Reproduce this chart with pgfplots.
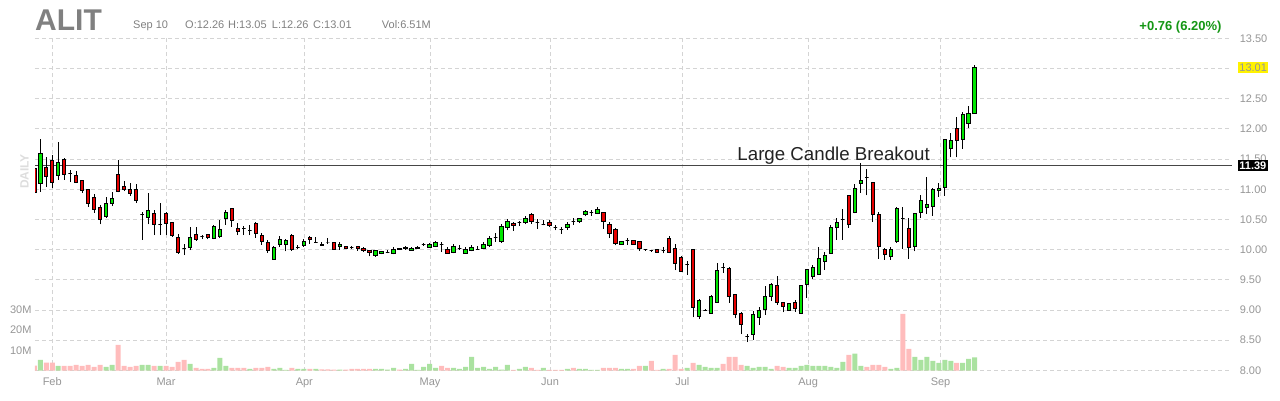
\documentclass[border=0pt]{standalone}
\usepackage{pgfplots}
\pgfplotsset{compat=1.18}
\usepackage{pgfplotstable}
\usepackage{fontspec}
\setmainfont{Liberation Sans}
\definecolor{candlegreen}{RGB}{0,230,0}
\definecolor{candlered}{RGB}{230,0,0}
\definecolor{volgreen}{RGB}{170,226,160}
\definecolor{volred}{RGB}{255,188,188}
\definecolor{gridgray}{RGB}{212,212,212}
\definecolor{labelgray}{RGB}{150,150,150}
\definecolor{headgray}{RGB}{128,128,128}
\definecolor{upgreen}{RGB}{20,150,20}
\definecolor{linegray}{RGB}{70,70,70}

\pgfplotstableread{
o h l c vu vd
11.35 11.40 10.93 10.95 0 2.5
11.09 11.84 10.96 11.59 5.3 0
11.36 11.54 11.04 11.21 0 4.0
11.47 11.57 11.02 11.12 0 4.0
11.22 11.79 11.16 11.45 2.3 0
11.50 11.52 11.16 11.25 0 2.3
11.26 11.32 11.12 11.26 0 2.3
11.23 11.31 11.10 11.12 0 2.8
11.14 11.16 10.94 10.98 0 2.3
10.99 11.00 10.71 10.77 0 2.8
10.87 10.92 10.61 10.66 0 1.8
10.70 10.74 10.42 10.50 0 2.8
10.55 10.88 10.52 10.77 1.8 0
10.77 10.96 10.72 10.84 2.8 0
11.25 11.48 10.95 10.96 0 12.7
11.05 11.14 10.97 11.00 0 2.3
11.00 11.10 10.89 10.93 0 1.8
10.99 11.08 10.77 10.81 0 2.3
10.58 10.63 10.16 10.58 2.8 0
10.54 10.94 10.42 10.64 2.8 0
10.60 10.65 10.24 10.41 0 2.3
10.41 10.77 10.24 10.41 2.3 0
10.60 10.62 10.24 10.44 0 2.3
10.45 10.45 10.21 10.23 0 1.8
10.20 10.26 9.93 9.95 0 4.3
10.02 10.10 9.91 10.02 0 5.3
10.04 10.38 9.99 10.20 3.3 0
10.25 10.38 10.15 10.17 0 1.3
10.22 10.24 10.17 10.22 0 0.8
10.25 10.26 10.17 10.20 0 0.8
10.19 10.40 10.17 10.38 1.3 0
10.21 10.49 10.19 10.34 6.3 0
10.51 10.66 10.41 10.62 2.3 0
10.68 10.69 10.38 10.49 0 1.3
10.35 10.44 10.24 10.30 0 1.3
10.35 10.39 10.24 10.35 0 1.3
10.32 10.41 10.24 10.32 0.8 0
10.43 10.45 10.20 10.26 0 1.3
10.24 10.28 10.08 10.13 0 1.3
10.12 10.16 9.95 9.98 0 1.8
9.84 10.06 9.83 10.04 0.8 0
10.09 10.22 10.04 10.17 1.3 0
10.09 10.17 9.97 10.15 0.3 0
10.24 10.26 9.98 10.01 0 1.3
10.03 10.07 10.01 10.03 0.8 0
10.07 10.18 10.05 10.13 0.8 0
10.20 10.22 10.10 10.16 0 0.8
10.12 10.21 10.11 10.12 0.8 0
10.09 10.12 10.06 10.07 0 0.6
10.11 10.20 10.10 10.11 0 0.6
10.11 10.12 10.01 10.01 0 0.5
10.06 10.12 10.00 10.09 0.5 0
10.05 10.06 10.02 10.02 0 0.5
10.03 10.06 10.01 10.03 0 0.8
10.05 10.06 9.98 10.02 0 0.8
10.02 10.05 9.96 9.99 0 0.8
9.98 9.99 9.89 9.96 0 0.8
9.91 9.99 9.88 9.98 0.8 0
9.93 9.98 9.92 9.97 0.8 0
9.95 9.99 9.94 9.95 0.5 0
9.93 10.05 9.92 10.01 1.3 0
10.00 10.03 9.99 10.02 0 0.5
10.04 10.06 10.00 10.02 0.8 0
9.99 10.04 9.98 10.02 3.3 0
10.02 10.06 10.01 10.04 0.3 0
10.08 10.11 10.06 10.08 1.8 0
10.04 10.11 10.03 10.09 3.3 0
10.05 10.14 10.04 10.12 1.3 0
10.08 10.13 9.96 10.08 0 2.3
10.01 10.05 9.93 9.94 0 1.3
9.95 10.09 9.94 10.06 1.3 0
10.02 10.07 10.00 10.02 0.8 0
9.94 10.05 9.93 10.01 1.8 0
9.98 10.07 9.97 10.04 6.8 0
10.01 10.06 10.00 10.01 1.3 0
10.02 10.12 10.01 10.09 1.8 0
10.07 10.22 10.05 10.19 0.8 0
10.20 10.27 10.13 10.20 1.8 0
10.13 10.43 10.11 10.39 0.5 0
10.37 10.50 10.32 10.46 2.8 0
10.44 10.46 10.31 10.40 0 0.3
10.45 10.48 10.39 10.45 0.8 0
10.45 10.55 10.42 10.51 1.8 0
10.59 10.61 10.43 10.46 0 1.3
10.45 10.50 10.35 10.45 0 0.3
10.41 10.49 10.40 10.41 1.3 0
10.45 10.49 10.38 10.40 0 0.3
10.36 10.40 10.32 10.36 0 0.3
10.34 10.38 10.26 10.34 0 0.3
10.36 10.46 10.33 10.42 0.8 0
10.46 10.52 10.41 10.46 0 1.3
10.46 10.53 10.44 10.52 0.8 0
10.58 10.66 10.55 10.63 0.8 0
10.62 10.66 10.56 10.62 0.3 0
10.60 10.70 10.59 10.66 0.3 0
10.62 10.63 10.35 10.46 0 1.3
10.41 10.45 10.19 10.26 0 1.3
10.34 10.36 10.07 10.10 0 1.3
10.09 10.15 10.08 10.14 0.8 0
10.15 10.19 10.08 10.15 0.8 0
10.15 10.16 10.08 10.09 0 0.8
10.14 10.15 9.98 10.02 0 2.3
10.00 10.00 9.99 10.00 2.3 0
9.98 9.98 9.97 9.98 0 4.8
10.00 10.01 9.95 9.96 0 0.3
9.98 10.05 9.94 9.98 0.8 0
10.19 10.23 9.94 9.95 0 0.8
10.02 10.10 9.66 9.77 0 7.8
9.87 9.89 9.63 9.64 0 0.8
9.75 9.82 9.58 9.75 1.3 0
10.00 10.00 8.88 9.04 0 3.8
8.89 9.19 8.85 9.15 2.8 0
9.00 9.02 8.98 9.00 1.8 0
8.95 9.25 8.94 9.23 1.3 0
9.12 9.78 9.12 9.65 1.3 0
9.70 9.78 9.62 9.70 0 3.3
9.69 9.71 9.12 9.23 0 6.8
9.25 9.26 8.86 8.92 0 6.8
8.94 8.96 8.60 8.76 0 2.8
8.56 8.61 8.47 8.56 2.3 0
8.59 8.98 8.51 8.93 1.3 0
8.88 9.05 8.76 9.00 1.8 0
9.01 9.40 8.92 9.22 1.8 0
9.23 9.45 9.15 9.43 0.8 0
9.41 9.56 9.09 9.13 0 2.3
9.13 9.14 8.96 9.06 0 1.8
9.00 9.11 8.99 9.10 1.3 0
9.13 9.16 8.97 9.03 1.3 0
8.94 9.42 8.93 9.41 2.3 0
9.43 9.68 9.20 9.67 2.8 0
9.56 9.75 9.52 9.70 2.3 0
9.59 10.05 9.58 9.86 2.3 0
9.80 9.96 9.67 9.91 2.3 0
9.94 10.40 9.93 10.36 1.8 0
10.37 10.52 10.16 10.45 1.3 0
10.50 10.67 10.16 10.50 4.3 0
10.89 10.90 10.36 10.42 0 7.8
10.62 11.09 10.60 11.01 8.4 0
11.10 11.43 10.94 11.15 2.3 0
11.20 11.33 10.90 11.20 0 1.8
11.11 11.12 10.46 10.58 0 2.8
10.58 10.63 9.85 10.05 0 2.8
10.01 10.02 9.83 9.92 0 1.8
9.88 10.04 9.83 10.01 0.8 0
10.14 10.71 10.11 10.68 1.3 0
10.52 10.70 10.01 10.52 0 28.1
10.35 10.52 9.85 10.03 0 10.7
10.05 10.61 9.97 10.60 6.8 0
10.61 10.90 10.53 10.81 5.3 0
10.70 11.20 10.59 10.75 6.8 0
10.72 11.02 10.56 10.99 4.8 0
10.98 11.11 10.88 11.02 3.8 0
11.03 11.84 10.89 11.82 5.3 0
11.67 11.93 11.53 11.80 4.8 0
12.00 12.19 11.53 11.81 0 3.8
11.82 12.28 11.67 12.23 3.8 0
12.09 12.38 12.01 12.25 5.8 0
12.26 13.05 12.26 13.01 6.51 0
}\data

\begin{document}
\begin{tikzpicture}
\useasboundingbox (-35pt,-29pt) rectangle (1245pt,371pt);
\pgfplotsset{
  base/.style={
    scale only axis, width=1197pt, height=332.7pt,
    xmin=0.12, xmax=199.95,
    axis line style={draw=none},
    major tick length=0pt,
    tick style={draw=none},
    ticklabel style={font=\fontsize{11}{13}\selectfont, text=labelgray},
  }
}
% ---- grid, price labels, month labels
\begin{axis}[base, ymin=7.99, ymax=13.5,
  xtick={3.0,21.99,45.08,66.06,86.1,108.18,129.2,151.3},
  xticklabels={Feb,Mar,Apr,May,Jun,Jul,Aug,Sep},
  ytick={8,8.5,9,9.5,10,10.5,11,11.5,12,12.5,13,13.5},
  yticklabels={8.00,8.50,9.00,9.50,10.00,10.50,11.00,11.50,12.00,12.50,{},13.50},
  yticklabel pos=right,
  grid=major,
  major grid style={gridgray, line width=0.8pt, dash pattern=on 4pt off 3pt},
  yticklabel style={anchor=west, xshift=4.3pt},
  xticklabel style={yshift=-3pt},
]
\addplot[draw=none, forget plot] coordinates {(10,10)};
\end{axis}
% ---- volume
\begin{axis}[base, ymin=-0.2, ymax=164.5,
  xtick=\empty,
  ytick={10,20,30}, yticklabels={10M,20M,30M},
  yticklabel style={anchor=east},
]
\addplot[ybar, bar width=5pt, fill=volgreen, draw=none] table[x expr=\coordindex, y=vu] {\data};
\addplot[ybar, bar width=5pt, fill=volred, draw=none] table[x expr=\coordindex, y=vd] {\data};
\end{axis}
% ---- candles
\begin{axis}[base, ymin=7.99, ymax=13.5, xtick=\empty, ytick=\empty, clip mode=individual]
\addplot[linegray, line width=1.3pt, forget plot] coordinates {(0.12,11.39) (199.95,11.39)};
\pgfplotstablegetrowsof{\data}
\pgfmathtruncatemacro{\lastrow}{\pgfplotsretval-1}
\pgfplotsforeachungrouped \i in {0,...,\lastrow}{%
  \pgfplotstablegetelem{\i}{o}\of\data \let\cO\pgfplotsretval
  \pgfplotstablegetelem{\i}{h}\of\data \let\cH\pgfplotsretval
  \pgfplotstablegetelem{\i}{l}\of\data \let\cL\pgfplotsretval
  \pgfplotstablegetelem{\i}{c}\of\data \let\cC\pgfplotsretval
  \pgfmathsetmacro\xl{\i-0.29}%
  \pgfmathsetmacro\xr{\i+0.29}%
  \pgfmathtruncatemacro\dir{(\cC>\cO) ? 1 : ((\cC<\cO) ? 2 : 0)}%
  \ifcase\dir \def\fillcol{black}\or \def\fillcol{candlegreen}\or \def\fillcol{candlered}\fi
  \edef\temp{%
    \noexpand\addplot[black, line width=1pt, forget plot] coordinates {(\i,\cL) (\i,\cH)};
    \noexpand\addplot[draw=black, line width=1pt, fill=\fillcol, forget plot] coordinates {(\xl,\cO) (\xr,\cO) (\xr,\cC) (\xl,\cC)} -- cycle;
  }\temp
}
\node[anchor=base west, inner sep=0pt, font=\fontsize{18.7}{20}\selectfont, text={rgb,255:red,34;green,34;blue,34}]
  at (axis cs:117.36,11.484) {Large Candle Breakout};
\node[anchor=west, fill=yellow, text=labelgray, inner xsep=1.5pt, inner ysep=1.5pt, text height=8pt, text depth=0pt,
  font=\fontsize{11}{13}\selectfont, xshift=5.7pt] at (axis cs:199.95,13.01) {13.01};
\node[anchor=west, fill=black, text=white, inner xsep=1.5pt, inner ysep=1.7pt, text height=8pt, text depth=0pt,
  font=\fontsize{11}{13}\selectfont\bfseries, xshift=5.7pt] at (axis cs:199.95,11.39) {11.39};
\end{axis}
% ---- header
\node[anchor=base west, inner sep=0pt, font=\fontsize{30}{32}\selectfont\bfseries, text=headgray] at (0pt,341pt) {ALIT};
\begin{scope}[every node/.style={anchor=base west, inner sep=0pt, font=\fontsize{11}{13}\selectfont, text=headgray}]
\node at (98pt,342.7pt) {Sep 10};
\node at (150pt,342.7pt) {O:12.26};
\node at (193pt,342.7pt) {H:13.05};
\node at (236.7pt,342.7pt) {L:12.26};
\node at (278pt,342.7pt) {C:13.01};
\node at (346.7pt,342.7pt) {Vol:6.51M};
\end{scope}
\node[anchor=base east, inner sep=0pt, font=\fontsize{13}{15}\selectfont\bfseries, text=upgreen] at (1186.7pt,340.3pt) {+0.76 (6.20\%)};
\node[rotate=90, inner sep=0pt, font=\fontsize{12}{14}\selectfont\bfseries, text={rgb,255:red,221;green,221;blue,221}] at (-10.5pt,199.5pt) {DAILY};
\end{tikzpicture}
\end{document}
